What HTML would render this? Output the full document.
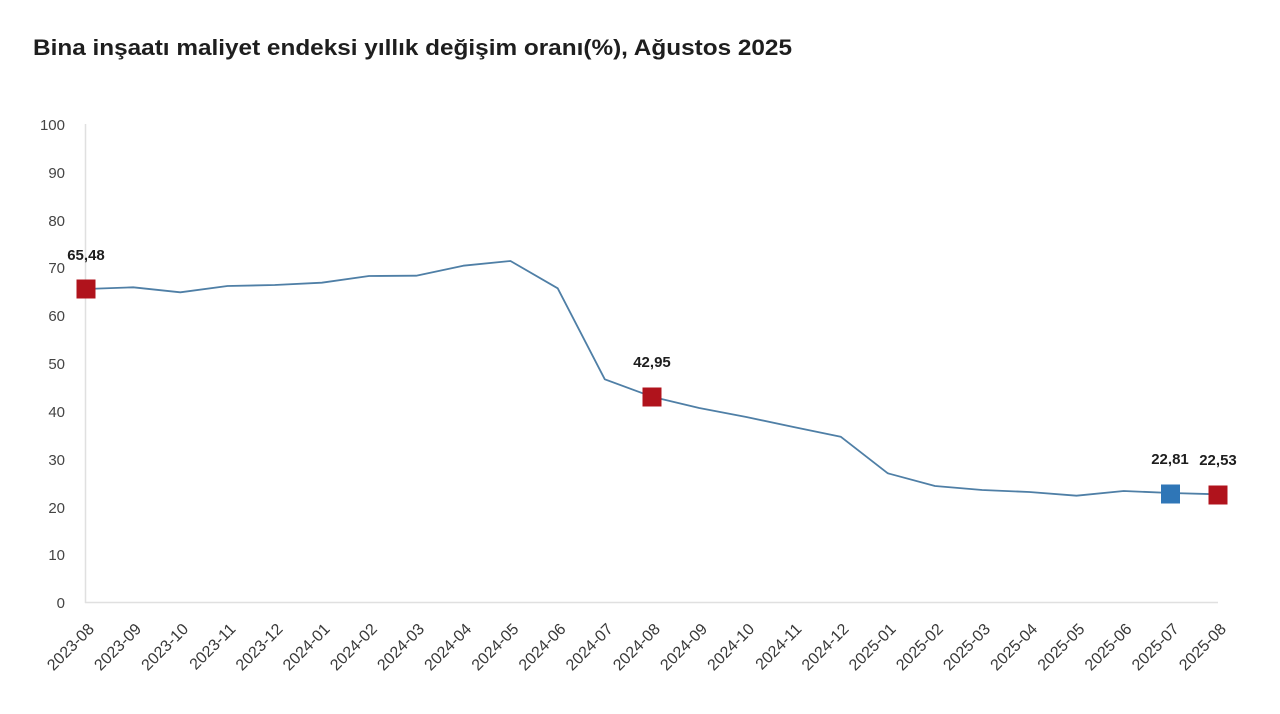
<!DOCTYPE html>
<html>
<head>
<meta charset="utf-8">
<style>
html,body{margin:0;padding:0;background:#fff;}
svg{display:block;}
text{font-family:"Liberation Sans",Arial,sans-serif;}
</style>
</head>
<body>
<svg width="1280" height="714" viewBox="0 0 1280 714" xmlns="http://www.w3.org/2000/svg">
  <rect width="1280" height="714" fill="#fff"/>
  <text x="33" y="55" font-size="22" font-weight="bold" fill="#1e1e1e" textLength="759" lengthAdjust="spacingAndGlyphs">Bina inşaatı maliyet endeksi yıllık değişim oranı(%), Ağustos 2025</text>

  <!-- axes -->
  <line x1="85.5" y1="124" x2="85.5" y2="603" stroke="#e0e0e0" stroke-width="1.5"/>
  <line x1="85" y1="602.5" x2="1218" y2="602.5" stroke="#e0e0e0" stroke-width="1.5"/>

  <!-- y labels -->
  <g font-size="15" fill="#444" text-anchor="end">
    <text x="65" y="130">100</text>
    <text x="65" y="178">90</text>
    <text x="65" y="226">80</text>
    <text x="65" y="273">70</text>
    <text x="65" y="321">60</text>
    <text x="65" y="369">50</text>
    <text x="65" y="417">40</text>
    <text x="65" y="465">30</text>
    <text x="65" y="513">20</text>
    <text x="65" y="560">10</text>
    <text x="65" y="608">0</text>
  </g>

  <!-- x labels -->
  <g font-size="16" fill="#383838" text-anchor="end">
    <text transform="translate(95,630) rotate(-45)">2023-08</text>
    <text transform="translate(142.2,630) rotate(-45)">2023-09</text>
    <text transform="translate(189.3,630) rotate(-45)">2023-10</text>
    <text transform="translate(236.5,630) rotate(-45)">2023-11</text>
    <text transform="translate(283.7,630) rotate(-45)">2023-12</text>
    <text transform="translate(330.8,630) rotate(-45)">2024-01</text>
    <text transform="translate(378,630) rotate(-45)">2024-02</text>
    <text transform="translate(425.2,630) rotate(-45)">2024-03</text>
    <text transform="translate(472.3,630) rotate(-45)">2024-04</text>
    <text transform="translate(519.5,630) rotate(-45)">2024-05</text>
    <text transform="translate(566.7,630) rotate(-45)">2024-06</text>
    <text transform="translate(613.8,630) rotate(-45)">2024-07</text>
    <text transform="translate(661,630) rotate(-45)">2024-08</text>
    <text transform="translate(708.2,630) rotate(-45)">2024-09</text>
    <text transform="translate(755.3,630) rotate(-45)">2024-10</text>
    <text transform="translate(802.5,630) rotate(-45)">2024-11</text>
    <text transform="translate(849.7,630) rotate(-45)">2024-12</text>
    <text transform="translate(896.8,630) rotate(-45)">2025-01</text>
    <text transform="translate(944,630) rotate(-45)">2025-02</text>
    <text transform="translate(991.2,630) rotate(-45)">2025-03</text>
    <text transform="translate(1038.3,630) rotate(-45)">2025-04</text>
    <text transform="translate(1085.5,630) rotate(-45)">2025-05</text>
    <text transform="translate(1132.7,630) rotate(-45)">2025-06</text>
    <text transform="translate(1179.8,630) rotate(-45)">2025-07</text>
    <text transform="translate(1227,630) rotate(-45)">2025-08</text>
  </g>

  <!-- line -->
  <polyline fill="none" stroke="#4f7fa6" stroke-width="1.8" stroke-linejoin="round"
    points="86,289.0 133.2,287.3 180.3,292.3 227.5,286.0 274.7,285.0 321.8,282.7 369,276.0 416.2,275.7 463.3,265.7 510.5,261.0 557.7,288.3 604.8,379.3 652,396.7 699.2,408.0 746.3,417.0 793.5,427.0 840.7,436.7 887.8,473.3 935,486.0 982.2,490.0 1029.3,492.0 1076.5,495.7 1123.7,491.0 1170.8,493.0 1218,494.3"/>

  <!-- markers -->
  <rect x="76.5" y="279.5" width="19" height="19" fill="#b0131c"/>
  <rect x="642.5" y="387.5" width="19" height="19" fill="#b0131c"/>
  <rect x="1161" y="484.5" width="19" height="19" fill="#2f76b7"/>
  <rect x="1208.5" y="485.5" width="19" height="19" fill="#b0131c"/>

  <!-- data labels -->
  <g font-size="15" font-weight="bold" fill="#1e1e1e" text-anchor="middle">
    <text x="86" y="260">65,48</text>
    <text x="652" y="367">42,95</text>
    <text x="1170" y="464">22,81</text>
    <text x="1218" y="465">22,53</text>
  </g>
</svg>
</body>
</html>
